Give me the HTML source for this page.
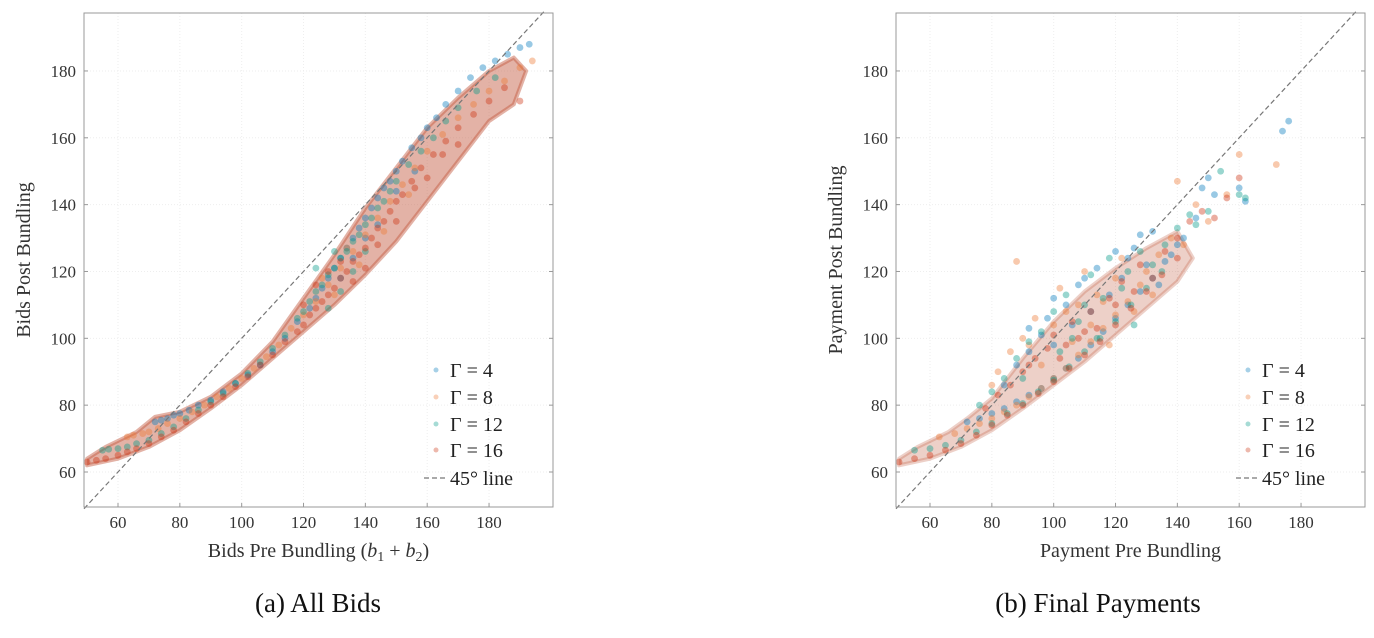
<!DOCTYPE html>
<html><head><meta charset="utf-8"><style>
body{margin:0;background:#fff;width:1374px;height:633px;overflow:hidden}
svg{font-family:"Liberation Serif",serif}
</style></head><body>
<svg id="chart" width="1374" height="633"></svg>
<script>
// ---- data ----
const xTicks=[60,80,100,120,140,160,180];
const yTicks=[60,80,100,120,140,160,180];
const legendLabels=["Γ = 4","Γ = 8","Γ = 12","Γ = 16"];
// dense point-cloud envelopes (lower edge then upper edge)
const bidsCloud=[[50,62],[60,64],[70,67.5],[80,72.5],[90,79],[100,86],[110,94],[120,102],[130,110],[140,119],[150,129],[160,141],[170,153],[180,165],[188,170],[192,180],[188,184],[180,180],[170,172],[160,163],[150,151],[140,139],[130,125],[120,112],[110,99],[100,89.5],[90,82.5],[80,78],[72,76.5],[66,72],[56,67.5],[50,64]];
const payCloud=[[50,62],[60,64],[70,67.5],[80,72.5],[90,79],[100,86],[110,93],[120,101],[130,109],[140,117],[145,124],[140,132],[130,127],[120,121],[110,114],[100,105],[90,94],[80,82],[72,76],[66,72],[56,67.5],[50,64]];
const bidsG4=[[72,75],[74,75.5],[76,76],[78,77],[80,77.5],[83,78.5],[86,80],[90,81.5],[94,84],[98,86.5],[102,89],[106,92],[110,96],[114,100],[118,105],[122,109],[124,112],[126,115],[128,118],[130,121],[132,124],[134,127],[136,130],[138,133],[140,136],[140,130],[142,139],[144,142],[146,145],[148,147],[150,150],[152,153],[155,157],[158,160],[160,163],[163,166],[166,170],[170,174],[174,178],[178,181],[182,183],[186,185],[190,187],[193,188],[132,118],[136,124],[144,134],[150,144],[156,150]];
const bidsG8=[[63,70.5],[65,71],[68,71.5],[70,72],[73,73],[76,74.5],[80,76],[84,78],[88,80],[92,82.5],[96,85],[100,88],[104,91],[108,94.5],[112,98],[116,103],[120,107],[124,111],[128,116],[132,121],[136,126],[140,131],[144,136],[148,141],[152,146],[156,151],[160,156],[165,161],[170,166],[175,170],[180,174],[185,177],[190,181],[194,183],[130,113],[138,122],[146,132],[154,143],[126,118],[134,127]];
const bidsG12=[[55,66.5],[57,66.8],[60,67],[63,67.5],[66,68.5],[70,69.5],[74,71.5],[78,73.5],[82,76],[86,78.5],[90,81],[94,83.5],[98,86.5],[102,89.5],[106,93],[110,97],[114,101],[118,106],[120,108],[122,111],[124,114],[126,116],[128,119],[130,121],[132,124],[134,126],[136,129],[138,131],[140,134],[142,136],[144,139],[146,141],[148,144],[150,147],[154,152],[158,156],[162,160],[166,165],[170,169],[176,174],[182,178],[128,109],[132,114],[136,120],[140,126],[124,121],[130,126]];
const bidsG16=[[50,63],[53,63.5],[56,64],[60,65],[63,66],[66,67],[70,68.5],[74,70.5],[78,72.5],[82,75],[86,77.5],[90,80],[94,82.5],[98,85.5],[102,88.5],[106,92],[110,95],[114,99],[118,102],[120,104],[122,107],[124,109],[126,111],[128,113],[130,115],[132,118],[134,120],[136,123],[138,125],[140,127],[142,130],[144,133],[146,135],[148,138],[150,141],[152,143],[155,147],[158,151],[162,155],[166,159],[170,163],[175,167],[180,171],[185,175],[190,171],[120,110],[124,116],[128,120],[132,123],[136,117],[140,121],[144,128],[150,135],[156,145],[160,148],[165,155],[170,158]];
const payG4=[[72,75],[76,76],[80,77.5],[84,79],[88,81],[92,83],[96,85],[100,88],[104,91],[108,94],[112,98],[116,102],[120,106],[124,110],[128,114],[132,118],[136,123],[140,128],[84,86],[88,92],[92,96],[96,101],[98,106],[100,112],[104,110],[106,104],[108,116],[112,108],[114,121],[118,113],[120,126],[122,118],[126,127],[130,122],[132,132],[134,116],[138,125],[142,130],[146,136],[148,145],[150,148],[152,143],[160,145],[162,141],[174,162],[176,165],[92,103],[100,98],[110,118],[124,124],[128,131]];
const payG8=[[63,70.5],[68,71.5],[72,73],[76,74.5],[80,76],[84,78],[88,80],[92,82.5],[96,85],[100,88],[104,91],[108,95],[112,99],[116,103],[120,107],[124,111],[128,116],[82,90],[86,96],[88,123],[90,100],[94,106],[96,92],[100,104],[102,115],[106,99],[108,110],[110,120],[112,104],[114,113],[118,98],[120,118],[122,124],[126,108],[130,120],[134,125],[138,130],[140,147],[142,128],[146,140],[150,135],[156,143],[160,155],[172,152],[80,86],[92,98],[104,108],[116,111],[132,113]];
const payG12=[[55,66.5],[60,67],[65,68],[70,69.5],[75,72],[80,74.5],[85,77.5],[90,80.5],[95,84],[100,87.5],[105,91.5],[110,96],[115,100],[120,105],[125,110],[130,115],[135,120],[76,80],[80,84],[84,88],[88,94],[92,99],[96,102],[100,108],[102,96],[104,113],[108,105],[110,110],[112,119],[114,100],[116,112],[118,124],[122,115],[124,120],[128,126],[132,122],[136,128],[140,133],[144,137],[146,134],[150,138],[154,150],[160,143],[162,142],[90,88],[106,100],[126,104]];
const payG16=[[50,63],[55,64],[60,65],[65,66.5],[70,68.5],[75,71],[80,74],[85,77],[90,80],[95,83.5],[100,87],[105,91],[110,95],[115,99],[120,104],[125,109],[130,114],[135,119],[140,124],[78,79],[82,83],[86,86],[90,90],[94,94],[98,97],[100,101],[104,98],[106,105],[108,100],[112,108],[114,103],[118,112],[122,117],[126,114],[128,122],[132,118],[136,126],[140,130],[144,135],[148,138],[152,136],[156,142],[160,148],[92,92],[102,94],[110,102],[120,110]];
const leftSeries=[bidsG4,bidsG8,bidsG12,bidsG16];
const rightSeries=[payG4,payG8,payG12,payG16];
const colors=["#0077BB","#EE7733","#009988","#CC3311"];

const NS="http://www.w3.org/2000/svg";
const svg=document.getElementById('chart');
function mk(tag,attrs,parent){const e=document.createElementNS(NS,tag);for(const k in attrs)e.setAttribute(k,attrs[k]);(parent||svg).appendChild(e);return e;}

function panel(ox,series,cloud,cloudOp,xlabel,ylabel,caption,capX,legX,nm){
  const L=ox+84,R=ox+553,T=13,B=507;
  const sx=v=>ox+118+(v-60)*3.092, sy=v=>472-(v-60)*3.342;
  const g=mk('g',{});
  
  
  xTicks.forEach(t=>{const l=mk('line',{x1:sx(t),x2:sx(t),y1:T,y2:B,stroke:'#eee','stroke-width':1,'stroke-dasharray':'1 2'},g);
    });
  yTicks.forEach(t=>{const l=mk('line',{x1:L,x2:R,y1:sy(t),y2:sy(t),stroke:'#eee','stroke-width':1,'stroke-dasharray':'1 2'},g);
    });
  // dense cloud
  const cp0=mk('polygon',{points:cloud.map(p=>sx(p[0])+','+sy(p[1])).join(' '),fill:'#c0553a','fill-opacity':cloudOp,stroke:'#c0553a','stroke-opacity':cloudOp,'stroke-width':4,'stroke-linejoin':'round'},g);
  
  
  series.forEach((s,i)=>{s.forEach(p=>{
    const c=mk('circle',{cx:sx(p[0]),cy:sy(p[1]),r:3.4,fill:colors[i],'fill-opacity':0.4},g);
    
    
  });});
  const d=mk('line',{x1:sx(49),y1:sy(49),x2:sx(198),y2:sy(198),stroke:'#777','stroke-width':1.2,'stroke-dasharray':'5 3'},g);
  
  const f=mk('rect',{x:L,y:T,width:R-L,height:B-T,fill:'none',stroke:'#999','stroke-width':1},g);
  
  xTicks.forEach(t=>{mk('line',{x1:sx(t),x2:sx(t),y1:B,y2:B-4,stroke:'#999'},g);
    const tx=mk('text',{x:sx(t),y:B+21,'text-anchor':'middle','font-size':17,fill:'#333'},g);tx.textContent=t;
    });
  yTicks.forEach(t=>{mk('line',{x1:L,x2:L+4,y1:sy(t),y2:sy(t),stroke:'#999'},g);mk('line',{x1:R,x2:R-4,y1:sy(t),y2:sy(t),stroke:'#999'},g);
    const tx=mk('text',{x:L-8,y:sy(t)+6,'text-anchor':'end','font-size':17,fill:'#333'},g);tx.textContent=t;
    });
  const xl=mk('text',{x:(L+R)/2,y:B+50,'text-anchor':'middle','font-size':20,fill:'#333'},g);xl.innerHTML=xlabel;
  
  const yl=mk('text',{x:0,y:0,'text-anchor':'middle','font-size':20,fill:'#333',transform:`translate(${ox+30},${(T+B)/2}) rotate(-90)`},g);yl.textContent=ylabel;
  
  const cp=mk('text',{x:capX,y:612,'text-anchor':'middle','font-size':27,fill:'#111'},g);cp.textContent=caption;
  
  const ly=[370,397,424,450];
  legendLabels.forEach((lab,i)=>{
    const m=mk('circle',{cx:legX,cy:ly[i],r:2.5,fill:colors[i],'fill-opacity':0.35},g);
    
    const t=mk('text',{x:legX+14,y:ly[i]+7,'font-size':20,fill:'#222'},g);t.textContent=lab;
    
  });
  mk('line',{x1:legX-12,x2:legX+10,y1:478,y2:478,stroke:'#777','stroke-width':1.2,'stroke-dasharray':'5 3'},g);
  const t=mk('text',{x:legX+14,y:485,'font-size':20,fill:'#222'},g);t.textContent='45° line';
  
}
panel(0,leftSeries,bidsCloud,0.45,'Bids Pre Bundling (<tspan font-style="italic">b</tspan><tspan font-size="14" dy="4">1</tspan><tspan dy="-4"> + </tspan><tspan font-style="italic">b</tspan><tspan font-size="14" dy="4">2</tspan><tspan dy="-4">)</tspan>','Bids Post Bundling','(a) All Bids',318,436,'panel-all-bids');
panel(812,rightSeries,payCloud,0.28,'Payment Pre Bundling','Payment Post Bundling','(b) Final Payments',1098,1248,'panel-final-payments');
</script>
</body></html>
